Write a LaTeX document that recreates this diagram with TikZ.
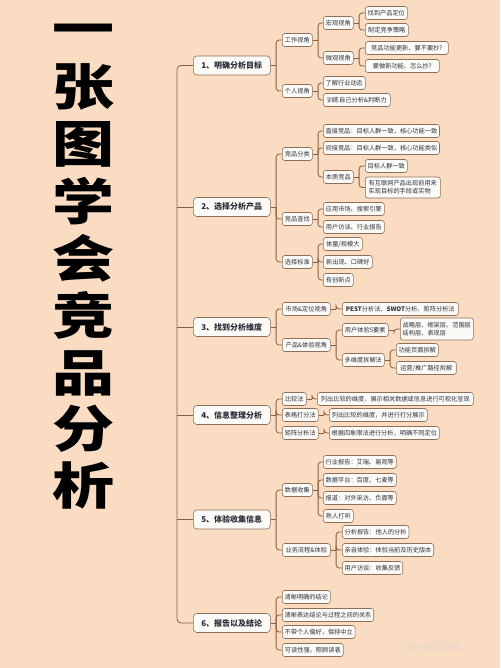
\documentclass[tikz,border=0pt]{standalone}
\usepackage{fontspec}
\usepackage{graphicx}
\newfontfamily\cjk{Noto Sans CJK SC}
\usetikzlibrary{calc}
\definecolor{bg}{HTML}{F9DCC2}
\definecolor{boxf}{HTML}{FCFAF6}
\definecolor{boxc}{HTML}{8E6F57}
\definecolor{linkc}{HTML}{8A5E40}
\definecolor{txt}{HTML}{2E3340}
\definecolor{wm}{HTML}{E6D8CD}
\tikzset{
  box/.style={draw=boxc, fill=boxf, rounded corners=2.5pt, line width=0.6pt,
    inner xsep=2.3pt, inner ysep=1pt, minimum height=13pt, anchor=west,
    font=\cjk\fontsize{6.2}{7.8}\selectfont, text=txt},
  mainbox/.style={box, minimum width=77pt, minimum height=19pt, rounded corners=3.5pt,
    font=\cjk\bfseries\fontsize{8}{10}\selectfont, text=txt!90!black},
  link/.style={draw=linkc, line width=0.8pt},
  titlechar/.style={inner sep=0pt, text height=44pt, text depth=6pt,
    font=\cjk\bfseries\fontsize{50}{50}\selectfont, text=black}
}
\newcommand\bx[6][]{\node[box,minimum width=#5pt,#1] (#2) at (#3,#4) {#6};}
\newcommand\kids[2]{%
  \draw[link] (#1.east) -- ++(5.5pt,0) coordinate (j-#1);
  \foreach \ch in {#2}{\draw[link,rounded corners=3pt] (j-#1) |- (\ch.west);}}
\begin{document}
\begin{tikzpicture}[x=1pt,y=-1pt]
\fill[bg] (0,0) rectangle (500,668);
\useasboundingbox (0,0) rectangle (500,668);

% title
\foreach \t/\yy in {一/29,张/87,图/144,学/201,会/258,竞/315,品/372,分/428,析/485}
  \node[titlechar] (t-\yy) at (83.5,\yy) {\scalebox{1.24}[1]{\t}};

% main nodes
\node[mainbox] (m1) at (193,65.5) {1、明确分析目标};
\node[mainbox] (m2) at (193,207) {2、选择分析产品};
\node[mainbox] (m3) at (193,327) {3、找到分析维度};
\node[mainbox] (m4) at (193,415) {4、信息整理分析};
\node[mainbox] (m5) at (193,519.5) {5、体验收集信息};
\node[mainbox] (m6) at (193,623) {6、报告以及结论};

% spine
\coordinate (sp) at (177,0);
\draw[link,rounded corners=4pt] (m1.west) -- (m1.west -| sp) -- (m6.west -| sp) -- (m6.west);
\foreach \m in {m2,m3,m4,m5} \draw[link] (\m.west -| sp) -- (\m.west);

% group 1
\bx{a1}{282}{40}{30}{工作视角}
\bx{a2}{282}{91}{30}{个人视角}
\bx{a11}{323}{23}{30}{宏观视角}
\bx{a12}{323}{58}{30}{微观视角}
\bx{a111}{365}{13}{42}{找到产品定位}
\bx{a112}{365}{30}{43}{制定竞争策略}
\bx{a121}{365}{48}{83}{竞品功能更新、要不要抄?}
\bx{a122}{365}{66}{74}{要做新功能、怎么抄?}
\bx{a21}{323}{83}{42}{了解行业动态}
\bx{a22}{323}{100}{67}{训练自己分析\&判断力}
\kids{m1}{a1,a2}
\kids{a1}{a11,a12}
\kids{a11}{a111,a112}
\kids{a12}{a121,a122}
\kids{a2}{a21,a22}

% group 2
\bx{b1}{282}{154}{30}{竞品分类}
\bx{b11}{323}{131}{116}{直接竞品：目标人群一致，核心功能一致}
\bx{b12}{323}{148}{116}{间接竞品：目标人群一致，核心功能类似}
\bx{b13}{323}{177}{30}{本质竞品}
\bx{b131}{365}{166}{42}{目标人群一致}
\bx[align=left,minimum height=21pt]{b132}{365}{187.5}{75}{有互联网产品出现前用来\\实现目标的手段或实物}
\bx{b2}{282}{219}{30}{竞品查找}
\bx{b21}{323}{209}{61}{应用市场、搜索引擎}
\bx{b22}{323}{227}{61}{用户访谈、行业报告}
\bx{b3}{282}{262}{30}{选择标准}
\bx{b31}{323}{244}{39}{体量/规模大}
\bx{b32}{323}{262}{49}{新出现、口碑好}
\bx{b33}{323}{280}{30}{有创新点}
\kids{m2}{b1,b2,b3}
\kids{b1}{b11,b12,b13}
\kids{b13}{b131,b132}
\kids{b2}{b21,b22}
\kids{b3}{b31,b32,b33}

% group 3
\bx{c1}{282}{309}{48}{市场\&定位视角}
\bx{c11}{342}{309}{116}{\textbf{PEST}分析法、\textbf{SWOT}分析、矩阵分析法}
\bx{c2}{282}{345}{48}{产品\&体验视角}
\bx{c21}{342}{330}{46}{用户体验5要素}
\bx[align=left,minimum height=22pt]{c211}{400}{329}{73}{战略层、框架层、范围层\\结构层、表现层}
\bx{c22}{342}{360}{42}{多维度拆解法}
\bx{c221}{396}{350}{42}{功能页面拆解}
\bx{c222}{396}{368}{60}{运营/推广路径拆解}
\kids{m3}{c1,c2}
\kids{c1}{c11}
\kids{c2}{c21,c22}
\kids{c21}{c211}
\kids{c22}{c221,c222}

% group 4
\bx{d1}{282}{399}{24}{比较法}
\bx{d11}{317}{399}{156}{列出比较的维度，展示相关数据或信息进行可视化呈现}
\bx{d2}{282}{415}{36}{表格打分法}
\bx{d21}{329}{415}{98}{列出比较的维度，并进行打分展示}
\bx{d3}{282}{433}{36}{矩阵分析法}
\bx{d31}{329}{433}{110}{根据四象限法进行分析，明确不同定位}
\kids{m4}{d1,d2,d3}
\kids{d1}{d11}
\kids{d2}{d21}
\kids{d3}{d31}

% group 5
\bx{e1}{282}{490}{30}{数据收集}
\bx{e11}{323}{462}{73}{行业报告：艾瑞、易观等}
\bx{e12}{323}{480}{73}{数据平台：百度、七麦等}
\bx{e13}{323}{498}{73}{报道：对外采访、负面等}
\bx{e14}{323}{516}{30}{熟人打听}
\bx{e2}{282}{550}{48}{业务流程\&体验}
\bx{e21}{342}{532}{66}{分析报告：他人的分析}
\bx{e22}{342}{550}{91}{亲自体验：体验当前及历史版本}
\bx{e23}{342}{568}{60}{用户访谈：收集反馈}
\kids{m5}{e1,e2}
\kids{e1}{e11,e12,e13,e14}
\kids{e2}{e21,e22,e23}

% group 6
\bx{f1}{282}{597}{48}{清晰明确的结论}
\bx{f2}{282}{615}{91}{清晰表达结论与过程之间的关系}
\bx{f3}{282}{632}{72}{不带个人偏好，保持中立}
\bx{f4}{282}{650}{61}{可读性强，照顾读者}
\kids{m6}{f1,f2,f3,f4}

% watermark
\node[text=wm, font=\cjk\fontsize{11}{11}\selectfont, anchor=west, inner sep=0pt] (wmk) at (402,648) {@PM知识库};
\end{tikzpicture}
\end{document}
